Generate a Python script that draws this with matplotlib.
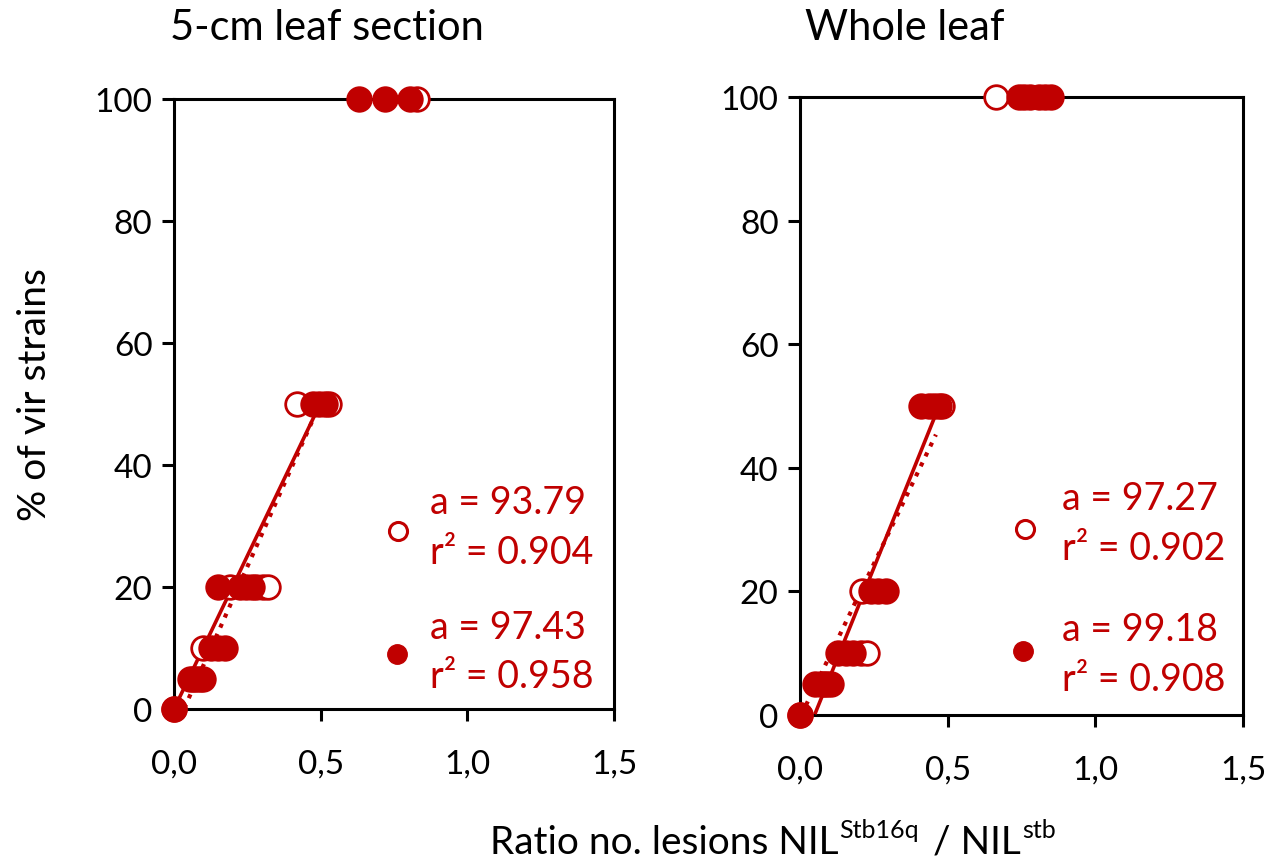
import matplotlib
matplotlib.use("Agg")
import matplotlib.pyplot as plt
import numpy as np

RED = "#C00000"
plt.rcParams["font.family"] = ["Lato", "DejaVu Sans"]

# ---- data -------------------------------------------------------------
panel_titles = ["5-cm leaf section", "Whole leaf"]
x_ticks = [0.0, 0.5, 1.0, 1.5]
x_tick_labels = ["0,0", "0,5", "1,0", "1,5"]
y_ticks = [0, 20, 40, 60, 80, 100]

# 5-cm leaf section
sec_open_x = [0.00, 0.065, 0.09, 0.10, 0.19, 0.28, 0.305, 0.32, 0.42, 0.53, 0.83]
sec_open_y = [0, 5, 5, 10, 20, 20, 20, 20, 50, 50, 100]
sec_fill_x = [0.00, 0.055, 0.075, 0.10, 0.125, 0.15, 0.175, 0.15, 0.225, 0.245,
              0.265, 0.475, 0.495, 0.515, 0.63, 0.72, 0.805]
sec_fill_y = [0, 5, 5, 5, 10, 10, 10, 20, 20, 20, 20, 50, 50, 50, 100, 100, 100]

# whole leaf
leaf_open_x = [0.00, 0.08, 0.205, 0.225, 0.21, 0.48, 0.665, 0.78]
leaf_open_y = [0, 5, 10, 10, 20, 50, 100, 100]
leaf_fill_x = [0.00, 0.05, 0.07, 0.09, 0.105, 0.13, 0.155, 0.18, 0.24, 0.265,
               0.29, 0.41, 0.435, 0.455, 0.47, 0.74, 0.76, 0.81, 0.83, 0.85]
leaf_fill_y = [0, 5, 5, 5, 5, 10, 10, 10, 20, 20, 20, 50, 50, 50, 50,
               100, 100, 100, 100, 100]

# trend lines: (slope, intercept, x_start, x_end)
sec_solid = (100.4, 0.0, 0.0, 0.50)
sec_dotted = (107.9, -3.65, 0.035, 0.475)
leaf_solid = (118.5, -5.8, 0.05, 0.465)
leaf_dotted = (99.5, -0.4, 0.02, 0.46)

# fit statistics
sec_stats_open = ("93.79", "0.904")
sec_stats_fill = ("97.43", "0.958")
leaf_stats_open = ("97.27", "0.902")
leaf_stats_fill = ("99.18", "0.908")

# ---- figure -----------------------------------------------------------
fig = plt.figure(figsize=(12.70, 8.62), dpi=100)
ax_l = fig.add_axes([0.137, 0.1763, 0.3465, 0.7077])
ax_r = fig.add_axes([0.630, 0.1694, 0.3487, 0.7169])

MS = 17
MEW = 2.0
TICK_FS = 24
NOTE_FS = 27
TITLE_FS = 30
LABEL_FS = 28


def style_axes(ax):
    ax.set_xlim(0, 1.5)
    ax.set_ylim(0, 100)
    ax.set_xticks(x_ticks)
    ax.set_xticklabels(x_tick_labels)
    ax.set_yticks(y_ticks)
    for sp in ax.spines.values():
        sp.set_linewidth(2.2)
        sp.set_color("black")
    ax.tick_params(axis="both", direction="out", length=8.5, width=2.2,
                   labelsize=TICK_FS, colors="black")
    ax.tick_params(axis="x", pad=20)
    ax.tick_params(axis="y", pad=7)


def draw_panel(ax, ox, oy, fx, fy, solid, dotted, st_open, st_fill,
               mk_open, mk_fill, tx, ty):
    style_axes(ax)
    for (m, b, x0, x1), ls, lw in ((solid, "-", 2.6), (dotted, ":", 3.0)):
        xs = np.array([x0, x1])
        ax.plot(xs, m * xs + b, ls=ls, color=RED, lw=lw, zorder=3,
                solid_capstyle="butt", clip_on=False)
    ax.plot(ox, oy, "o", ms=MS, mfc="white", mec=RED, mew=MEW, ls="none",
            zorder=4, clip_on=False)
    ax.plot(fx, fy, "o", ms=MS, mfc=RED, mec=RED, mew=MEW, ls="none",
            zorder=5, clip_on=False)
    # statistics block
    ax.plot([mk_open[0]], [mk_open[1]], "o", ms=13, mfc="white", mec=RED,
            mew=2.2, zorder=5)
    ax.plot([mk_fill[0]], [mk_fill[1]], "o", ms=14, mfc=RED, mec=RED,
            zorder=5)
    lines = [f"a = {st_open[0]}", f"r\u00b2 = {st_open[1]}",
             f"a = {st_fill[0]}", f"r\u00b2 = {st_fill[1]}"]
    for s, y in zip(lines, ty):
        ax.text(tx, y, s, color=RED, fontsize=NOTE_FS, ha="left",
                va="center", zorder=6)


draw_panel(ax_l, sec_open_x, sec_open_y, sec_fill_x, sec_fill_y,
           sec_solid, sec_dotted, sec_stats_open, sec_stats_fill,
           (0.764, 29.2), (0.76, 9.0), 0.873, [33.9, 25.7, 13.4, 5.4])
draw_panel(ax_r, leaf_open_x, leaf_open_y, leaf_fill_x, leaf_fill_y,
           leaf_solid, leaf_dotted, leaf_stats_open, leaf_stats_fill,
           (0.762, 30.1), (0.755, 10.4), 0.887, [35.1, 27.0, 13.9, 5.8])

# panel titles
fig.text(327 / 1270, 1 - 28 / 862, panel_titles[0], fontsize=TITLE_FS,
         ha="center", va="center")
fig.text(905 / 1270, 1 - 28 / 862, panel_titles[1], fontsize=TITLE_FS,
         ha="center", va="center")

# y label
fig.text(35 / 1270, 1 - 395 / 862, "% of vir strains", fontsize=LABEL_FS,
         rotation=90, ha="center", va="center")

# x label with superscripts, each piece placed after the previous one
base = fig.text(490 / 1270, 1 - 843 / 862, "Ratio no. lesions NIL",
                fontsize=LABEL_FS, ha="left", va="center")
sup1 = fig.text(0, 0, "Stb16q", fontsize=18, ha="left", va="bottom")
mid = fig.text(0, 0, " / NIL", fontsize=LABEL_FS, ha="left",
               va="baseline")
sup2 = fig.text(0, 0, "stb", fontsize=18, ha="left", va="bottom")

fig.canvas.draw()
r = fig.canvas.get_renderer()
inv = fig.transFigure.inverted()
bb = base.get_window_extent(r)
x0, y0 = inv.transform((bb.x1 + 1, bb.y0 + 0.52 * bb.height))
sup1.set_position((x0, y0))
fig.canvas.draw()
bb1 = sup1.get_window_extent(r)
# baseline of the main text
base_y = inv.transform((0, bb.y0 + 0.22 * bb.height))[1]
mid.set_position((inv.transform((bb1.x1 + 4, 0))[0], base_y))
fig.canvas.draw()
bbm = mid.get_window_extent(r)
sup2.set_position(inv.transform((bbm.x1 + 1, bb.y0 + 0.52 * bb.height)))

fig.savefig("out.png", dpi=100)
